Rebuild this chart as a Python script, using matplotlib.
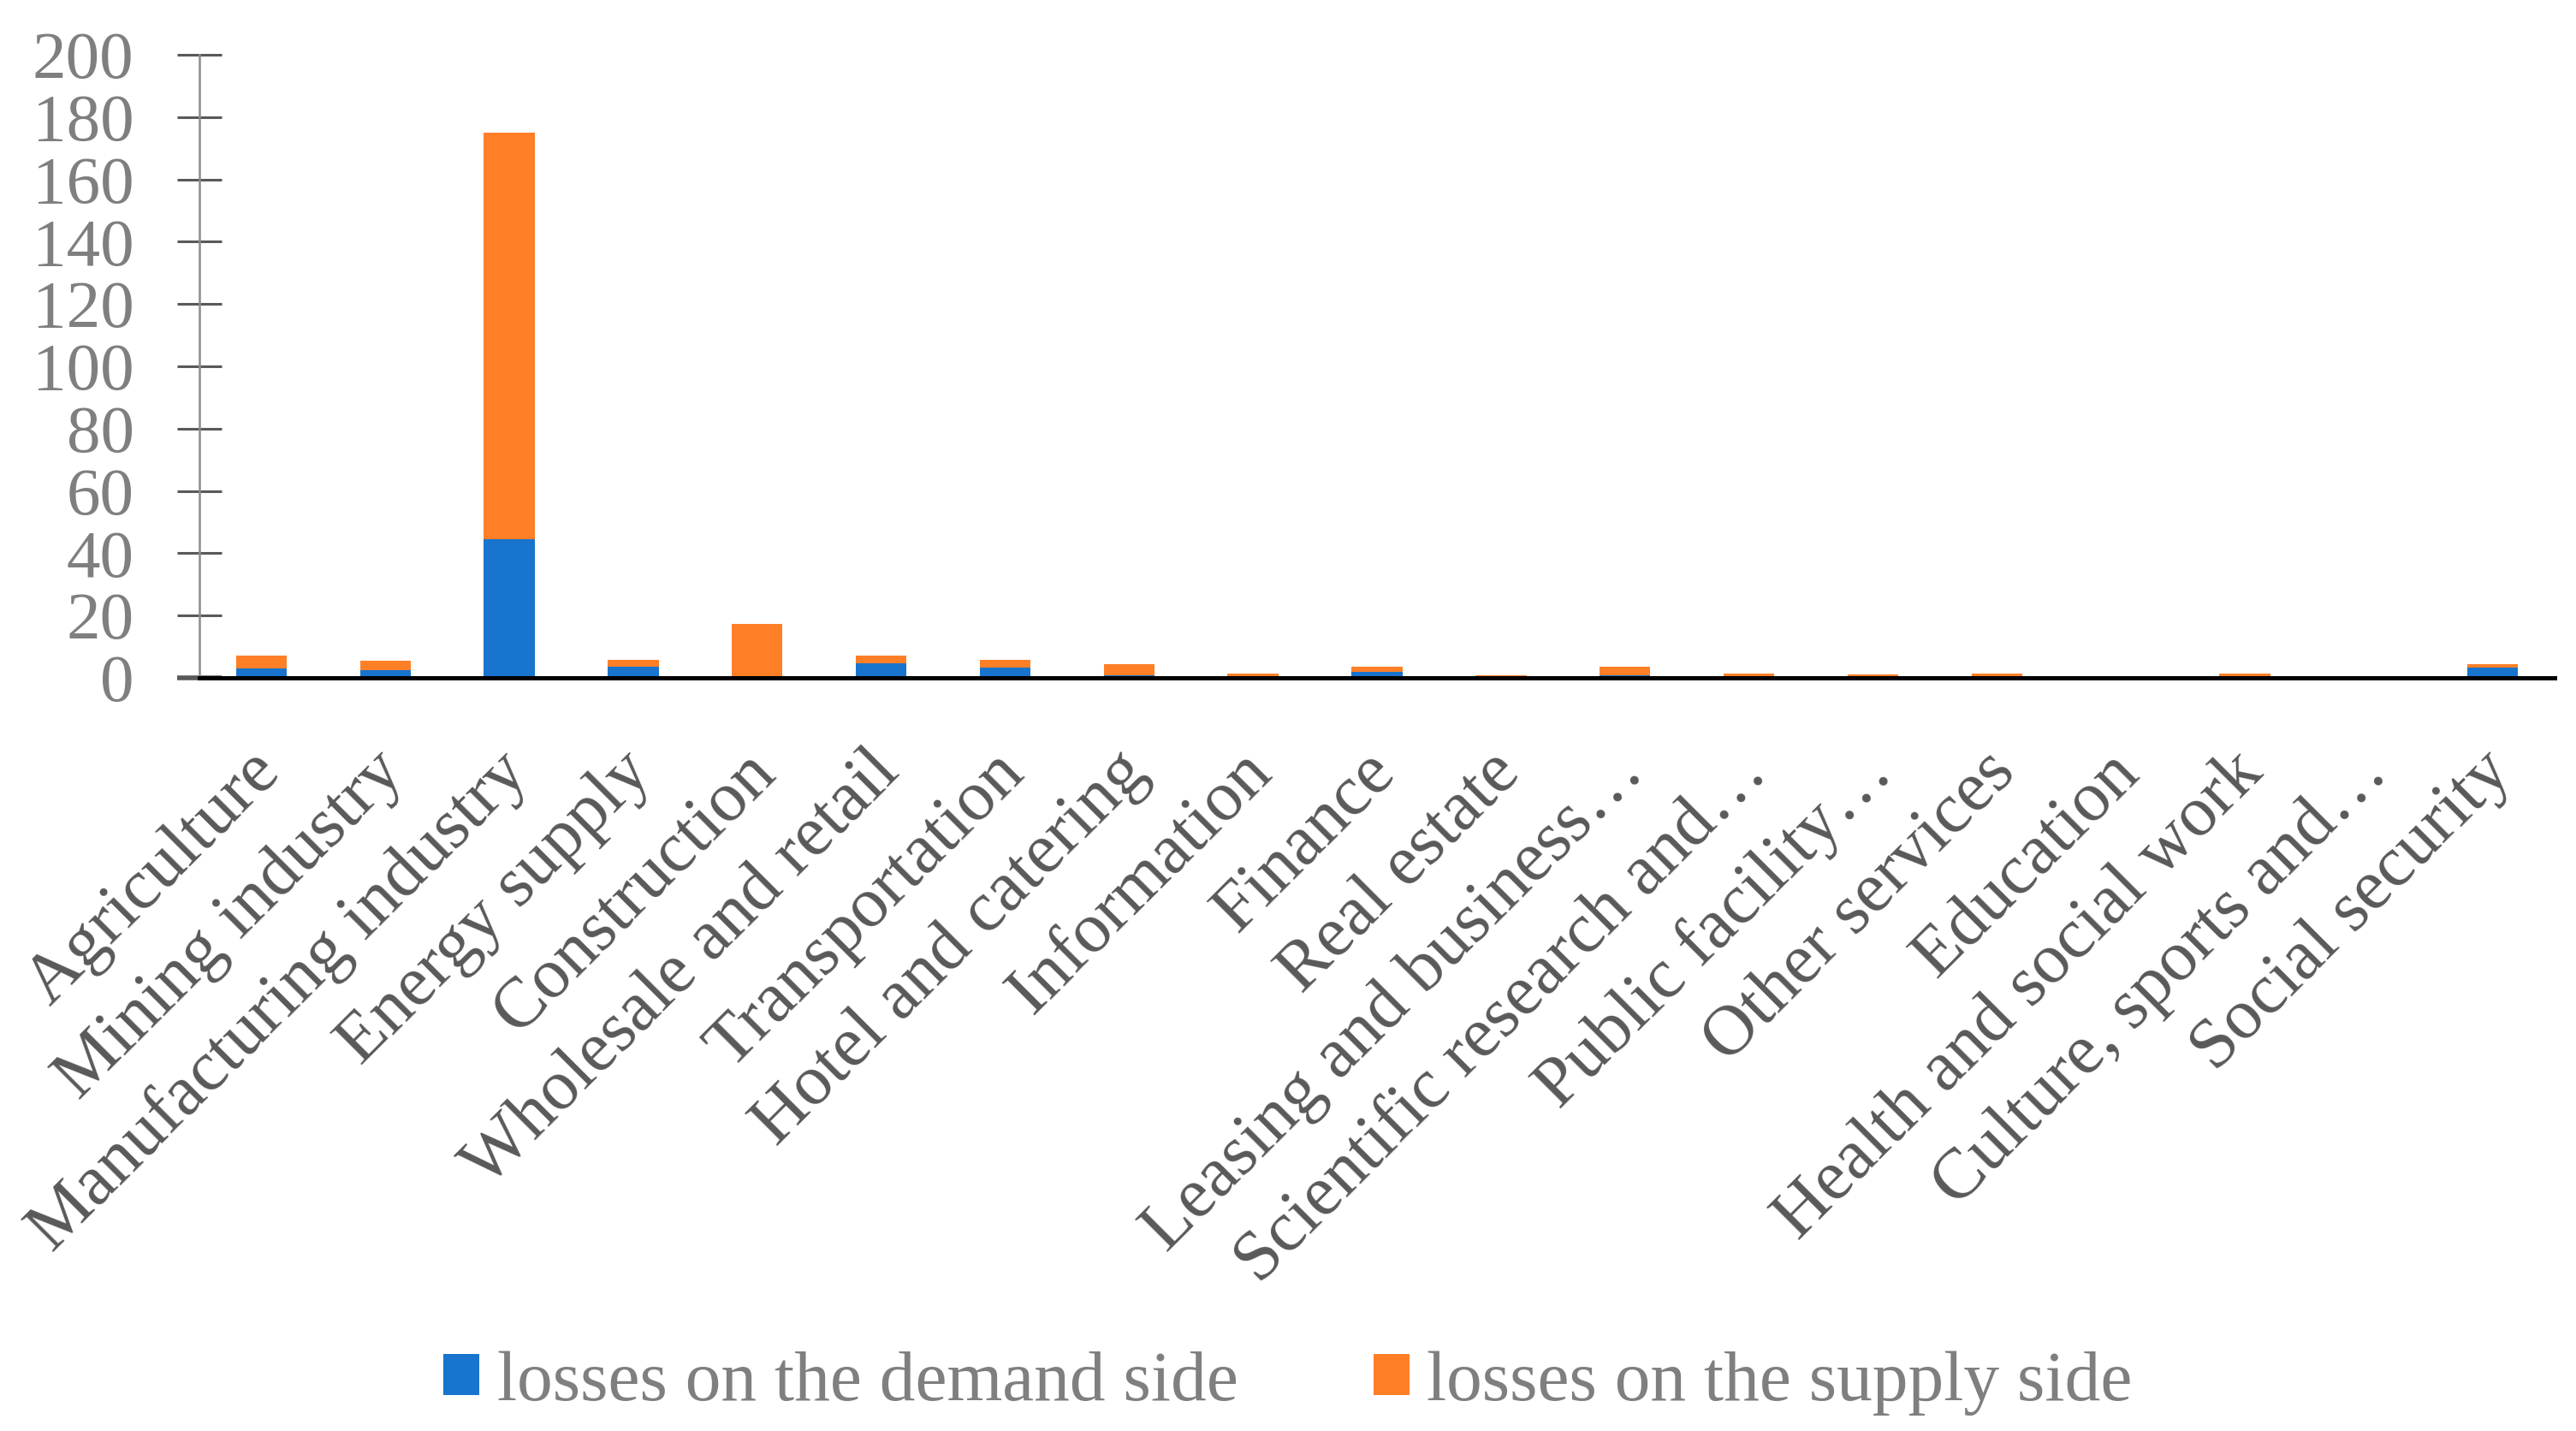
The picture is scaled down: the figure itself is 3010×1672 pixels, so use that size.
import matplotlib
matplotlib.use("Agg")
import matplotlib.pyplot as plt
import matplotlib.transforms as mtransforms
import numpy as np

categories = [
    "Agriculture", "Mining industry", "Manufacturing industry", "Energy supply",
    "Construction", "Wholesale and retail", "Transportation", "Hotel and catering",
    "Information", "Finance", "Real estate", "Leasing and business…",
    "Scientific research and…", "Public facility…", "Other services", "Education",
    "Health and social work", "Culture, sports and…", "Social security",
]
demand = [2.9, 2.4, 44.5, 3.6, 0.0, 4.7, 3.2, 0.8, 0.1, 1.8, 0.0, 0.7,
          0.1, 0.0, 0.3, 0.0, 0.1, 0.0, 3.2]
supply = [4.3, 3.1, 130.5, 2.2, 17.4, 2.5, 2.7, 3.5, 1.2, 1.7, 0.9, 2.8,
          1.3, 1.0, 1.1, 0.5, 1.3, 0.0, 1.3]
yticks = [0, 20, 40, 60, 80, 100, 120, 140, 160, 180, 200]

BLUE = "#1874CD"
ORANGE = "#FF7F27"
GRAY = "#7F7F7F"
DARK = "#595959"

plt.rcParams["font.family"] = ["Liberation Serif", "DejaVu Serif"]

fig = plt.figure(figsize=(15.05, 8.36), dpi=200)
# axes box: left spine at x=233px, right end 2985px, baseline 792px, top 64px
ax = fig.add_axes([233 / 3010, 1 - 792 / 1672, (2985 - 233) / 3010, (792 - 64) / 1672])

x = np.arange(len(categories))
ax.bar(x, demand, width=0.41, color=BLUE, label="losses on the demand side")
ax.bar(x, supply, width=0.41, bottom=demand, color=ORANGE,
       label="losses on the supply side")

ax.set_xlim(-0.5, len(categories) - 0.5)
ax.set_ylim(0, 200)
ax.set_yticks(yticks)
ax.tick_params(axis="y", direction="inout", length=19, width=1.1, color=DARK,
               labelcolor=GRAY, labelsize=28.5, pad=18)
zero_tick = ax.yaxis.get_major_ticks()[0]
zero_tick.tick1line.set_color("black")
zero_tick.tick1line.set_markeredgewidth(2.0)

ax.set_xticks(x)
ax.set_xticklabels(categories, rotation=45, ha="right", rotation_mode="anchor",
                   color=DARK, fontsize=30)
ax.tick_params(axis="x", length=0, pad=26)
shift = mtransforms.ScaledTranslation(-6 / 72, 0, fig.dpi_scale_trans)
for lab in ax.get_xticklabels():
    lab.set_transform(lab.get_transform() + shift)

for side in ("top", "right"):
    ax.spines[side].set_visible(False)
ax.spines["left"].set_color("#8C8C8C")
ax.spines["left"].set_linewidth(0.9)
ax.spines["bottom"].set_color("black")
ax.spines["bottom"].set_linewidth(1.8)

leg = fig.legend(loc="center", bbox_to_anchor=(0.5, 1 - 1616 / 1672), ncol=2,
                 frameon=False, fontsize=30, handlelength=0.5, handleheight=0.5,
                 columnspacing=1.9, handletextpad=0.25)
for t in leg.get_texts():
    t.set_color(GRAY)

fig.savefig("out.png", dpi=200)
